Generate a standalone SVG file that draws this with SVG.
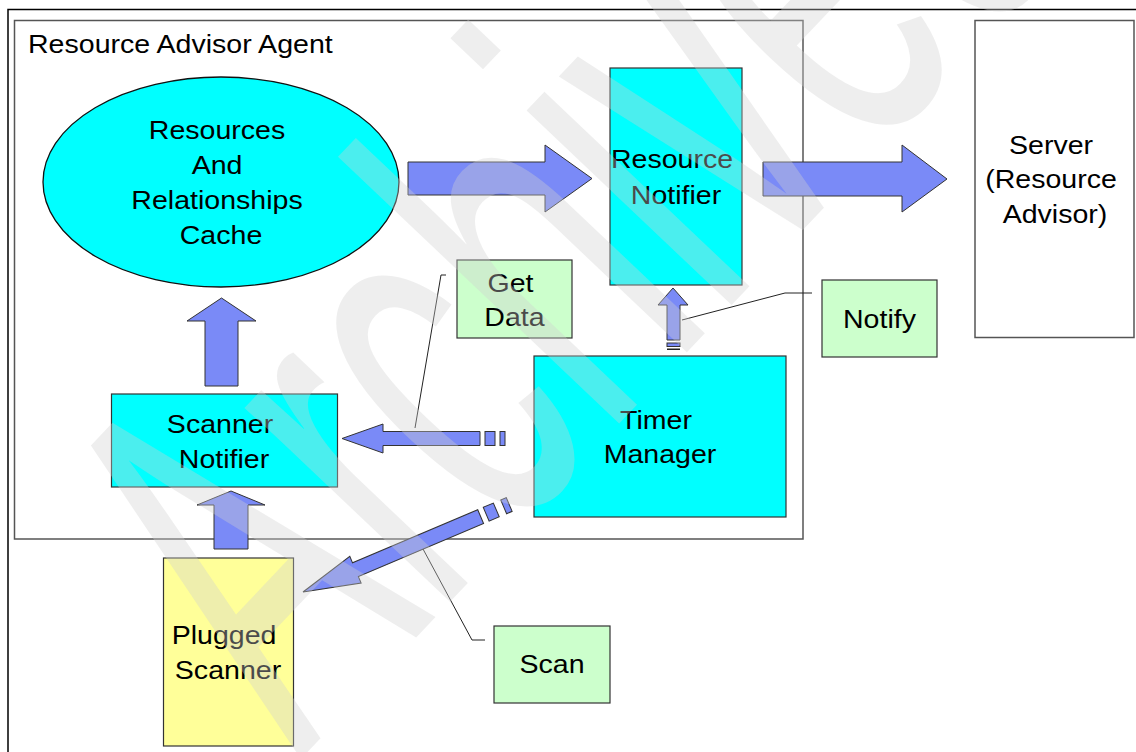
<svg xmlns="http://www.w3.org/2000/svg" width="1136" height="752" viewBox="0 0 1136 752">
  <style>
    .lbl { font-family: "Liberation Sans", Arial, sans-serif; font-size: 25.5px; fill: #000; }
    .mid { text-anchor: middle; }
    .box { stroke: #333; stroke-width: 1.2; }
    .cyan { fill: #00FFFF; }
    .note { fill: #CCFFCC; stroke: #333; stroke-width: 1.2; }
    .arrow { fill: #7A8AF7; stroke: #333; stroke-width: 1; stroke-linejoin: miter; }
    .lead { fill: none; stroke: #222; stroke-width: 1; }
    .stamp { font-family: "Liberation Sans", Arial, sans-serif; font-size: 295px; fill: #cfcfcf; fill-opacity: 0.36; }
  </style>

  <rect width="1136" height="752" fill="#fff"/>

  <!-- page frame (only top and left edges are in view) -->
  <path d="M8,752 V9.5 H1136" fill="none" stroke="#000" stroke-width="1.5"/>

  <!-- agent container -->
  <g id="agent">
    <rect x="14.5" y="20.5" width="788.5" height="518.5" fill="none" stroke="#555" stroke-width="1.5"/>
    <text class="lbl" transform="translate(28,0) scale(1.12,1)" x="0" y="53">Resource Advisor Agent</text>
  </g>

  <g id="cache">
    <ellipse cx="221" cy="182" rx="178" ry="105" class="cyan" stroke="#111" stroke-width="1.3"/>
    <text class="lbl mid" transform="translate(221,0) scale(1.12,1)">
      <tspan x="0" y="139.5">Resources</tspan>
      <tspan x="0" y="174.5">And</tspan>
      <tspan x="0" y="209.5">Relationships</tspan>
      <tspan x="0" y="244.5">Cache</tspan>
    </text>
  </g>

  <g id="resource-notifier">
    <rect x="610" y="68" width="132" height="217" class="cyan box"/>
    <text class="lbl mid" transform="translate(676,0) scale(1.12,1)">
      <tspan x="0" y="168">Resource</tspan>
      <tspan x="0" y="204">Notifier</tspan>
    </text>
  </g>

  <g id="server">
    <rect x="975" y="20.5" width="159" height="317" fill="#fff" stroke="#555" stroke-width="1.5"/>
    <text class="lbl mid" transform="translate(1055,0) scale(1.12,1)">
      <tspan x="0" y="154">Server</tspan>
      <tspan x="0" y="188.5">(Resource</tspan>
      <tspan x="0" y="223">Advisor)</tspan>
    </text>
  </g>

  <g id="get-data">
    <rect x="457" y="260" width="115" height="78" class="note"/>
    <text class="lbl mid" transform="translate(514.5,0) scale(1.12,1)">
      <tspan x="0" y="292">Get</tspan>
      <tspan x="0" y="326">Data</tspan>
    </text>
  </g>

  <g id="notify">
    <rect x="822" y="280" width="115" height="77" class="note"/>
    <text class="lbl mid" transform="translate(879.5,0) scale(1.12,1)" x="0" y="328.5">Notify</text>
  </g>

  <g id="timer-manager">
    <rect x="534" y="356" width="252" height="161" class="cyan box"/>
    <text class="lbl mid" transform="translate(660,0) scale(1.12,1)">
      <tspan x="0" y="429">Timer</tspan>
      <tspan x="0" y="463">Manager</tspan>
    </text>
  </g>

  <g id="scanner-notifier">
    <rect x="111.5" y="394" width="226" height="93" class="cyan box"/>
    <text class="lbl mid" transform="translate(224,0) scale(1.12,1)">
      <tspan x="0" y="433">Scanner</tspan>
      <tspan x="0" y="468">Notifier</tspan>
    </text>
  </g>

  <g id="plugged-scanner">
    <rect x="163.5" y="558" width="130" height="188" fill="#FFFF99" class="box"/>
    <text class="lbl mid" transform="translate(228,0) scale(1.12,1)">
      <tspan x="0" y="644">Plugged</tspan>
      <tspan x="0" y="679">Scanner</tspan>
    </text>
  </g>

  <g id="scan">
    <rect x="494" y="626" width="116" height="77" class="note"/>
    <text class="lbl mid" transform="translate(552,0) scale(1.12,1)" x="0" y="673">Scan</text>
  </g>

  <g id="connectors">
    <!-- block arrows -->
    <path class="arrow" d="M408,162 H545 V145 L592,178.5 L545,212 V195 H408 Z"/>
    <path class="arrow" d="M763,162 H902 V145 L947,179 L902,212 V196 H763 Z"/>
    <path class="arrow" d="M205,386 V321 H187 L221.5,298 L256,321 H238 V386 Z"/>
    <path class="arrow" d="M214,549 V505 H197 L231,491 L265,505 H248 V549 Z"/>

    <!-- striped arrows -->
    <g>
      <path class="arrow" d="M667,340 V305 H658 L673,288 L688,305 H680 V340 Z"/>
      <rect class="arrow" x="667" y="343" width="13" height="3.5"/>
      <rect x="667" y="348.5" width="13" height="1.5" fill="#222"/>
    </g>
    <g>
      <path class="arrow" d="M480,431.5 H383 V424 L342,438.5 L383,453 V445.5 H480 Z"/>
      <rect class="arrow" x="485" y="431.5" width="10" height="14"/>
      <rect class="arrow" x="500" y="431.5" width="5" height="14"/>
    </g>
    <g transform="translate(303,592) rotate(-23)">
      <path class="arrow" d="M0,0 L57,-14.5 V-7.5 H193 V7.5 H57 V14.5 Z"/>
      <rect class="arrow" x="199" y="-7.5" width="11" height="15"/>
      <rect class="arrow" x="218" y="-7.5" width="6" height="15"/>
    </g>

    <!-- callout leaders -->
    <polyline class="lead" points="446,275 441,275 415,428"/>
    <polyline class="lead" points="812,293 785,293 682,320"/>
    <polyline class="lead" points="485,640 472,640 423,549"/>
  </g>

  <!-- translucent stamp over the whole sheet -->
  <text class="stamp" transform="translate(300.5,759.4) rotate(-46.5) scale(1,1.8136)" x="0" y="0">Archived</text>
</svg>
